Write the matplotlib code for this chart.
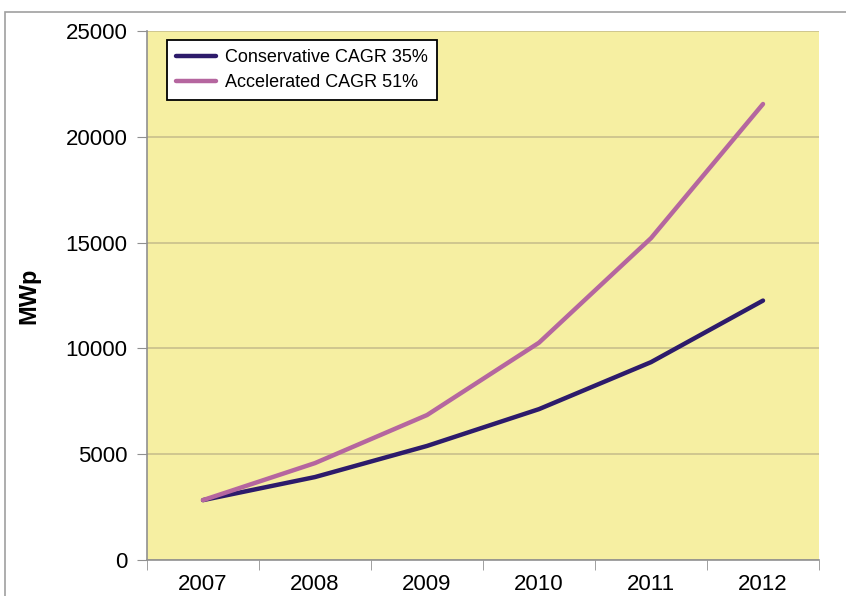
import matplotlib
matplotlib.use("Agg")
import matplotlib.pyplot as plt
from matplotlib.patches import Rectangle
from matplotlib.ticker import FixedLocator

years = ["2007", "2008", "2009", "2010", "2011", "2012"]
conservative = [2830, 3920, 5390, 7130, 9350, 12260]
accelerated = [2830, 4580, 6850, 10270, 15210, 21550]
y_ticks = [0, 5000, 10000, 15000, 20000, 25000]

plt.rcParams["font.family"] = ["Liberation Sans", "DejaVu Sans"]

fig = plt.figure(figsize=(8.46, 5.96), dpi=100)
ax = fig.add_axes([147 / 846, 1 - 560 / 596, 672 / 846, 529 / 596])

# outer chart frame (only left and top edges fall inside the image)
fig.patches.append(Rectangle((5 / 846, -0.1), 1.2, 0.1 + 1 - 12 / 596,
                             transform=fig.transFigure, fill=False,
                             edgecolor="#a0a0a0", linewidth=1.2))

ax.set_facecolor("#f6efa2")
x = range(len(years))
ax.plot(x, conservative, color="#2d1b6b", lw=3.2, solid_capstyle="round",
        label="Conservative CAGR 35%")
ax.plot(x, accelerated, color="#b5669f", lw=3.2, solid_capstyle="round",
        label="Accelerated CAGR 51%")

ax.set_xlim(-0.5, len(years) - 0.5)
ax.set_ylim(0, 25000)
ax.set_yticks(y_ticks)
ax.set_yticklabels([str(v) for v in y_ticks], fontsize=16)
ax.set_xticks(list(x))
ax.set_xticklabels(years, fontsize=16)
ax.xaxis.set_minor_locator(FixedLocator([i - 0.5 for i in range(len(years) + 1)]))
ax.tick_params(axis="x", which="major", length=0, pad=10)
ax.tick_params(axis="x", which="minor", length=7, color="#909090")
ax.tick_params(axis="y", length=7, color="#909090", pad=7)

ax.grid(axis="y", color="#c9c08c", linewidth=1.2)
ax.set_axisbelow(True)
for side in ["top", "right"]:
    ax.spines[side].set_visible(False)
for side in ["left", "bottom"]:
    ax.spines[side].set_color("#909090")
    ax.spines[side].set_linewidth(1.2)

ax.set_ylabel("MWp", fontsize=17, fontweight="bold")
ax.yaxis.set_label_coords(-0.159, 0.5)

leg = ax.legend(loc="upper left", bbox_to_anchor=(0.030, 0.983), fontsize=13,
                frameon=True, fancybox=False, framealpha=1, edgecolor="black",
                handlelength=2.2, handletextpad=0.5, borderpad=0.5,
                labelspacing=0.45, borderaxespad=0)
leg.get_frame().set_linewidth(1.3)

fig.savefig("out.png", dpi=100)
